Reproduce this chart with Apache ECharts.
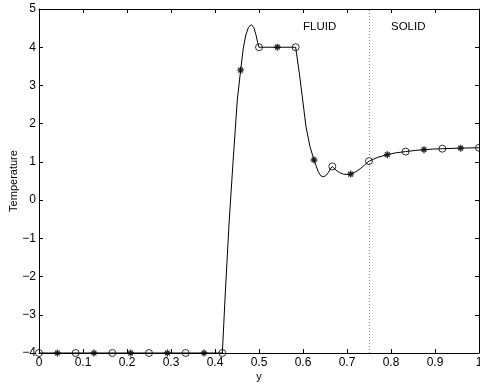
<!DOCTYPE html>
<html>
<head>
<meta charset="utf-8">
<script src="https://cdn.jsdelivr.net/npm/echarts@6/dist/echarts.min.js"></script>
<style>html,body{margin:0;padding:0;background:#fff}#c{width:480px;height:385px}</style>
</head>
<body>
<div id="c"></div>
<script>
// Continuous temperature profile
const curveX = [0, 0.4167, 0.424, 0.432, 0.441, 0.4507, 0.4583, 0.464, 0.470, 0.476, 0.4825, 0.488, 0.493, 0.497, 0.5,
  0.5833, 0.5917, 0.5993, 0.6068, 0.6159, 0.625, 0.6348, 0.640, 0.646, 0.652, 0.6576, 0.6625, 0.6667,
  0.674, 0.683, 0.692, 0.700, 0.7083, 0.720, 0.730, 0.740, 0.750, 0.770, 0.7917, 0.810, 0.8333, 0.855, 0.875, 0.895, 0.9167, 0.9583, 1.0];
const curveY = [-4, -4, -2.3, -0.6, 1.0, 2.62, 3.40, 3.95, 4.32, 4.52, 4.59, 4.52, 4.33, 4.12, 4.0,
  4.0, 3.32, 2.62, 1.92, 1.40, 1.05, 0.74, 0.64, 0.61, 0.64, 0.72, 0.82, 0.88,
  0.79, 0.72, 0.68, 0.67, 0.68, 0.74, 0.82, 0.92, 1.02, 1.12, 1.19, 1.235, 1.27, 1.30, 1.32, 1.335, 1.345, 1.36, 1.37];
// Nodes marked with circles
const circleX = [0, 0.0833, 0.1667, 0.25, 0.3333, 0.4167, 0.5, 0.5833, 0.6667, 0.75, 0.8333, 0.9167, 1.0];
const circleY = [-4, -4, -4, -4, -4, -4, 4.0, 4.0, 0.88, 1.02, 1.27, 1.345, 1.37];
// Nodes marked with asterisks
const starX = [0.0417, 0.125, 0.2083, 0.2917, 0.375, 0.4583, 0.5417, 0.625, 0.7083, 0.7917, 0.875, 0.9583];
const starY = [-4, -4, -4, -4, -4, 3.40, 4.0, 1.05, 0.68, 1.19, 1.32, 1.36];
const interfaceX = 0.75;
const regionLabels = ['FLUID', 'SOLID'];

const zip = (a, b) => a.map((v, i) => [v, b[i]]);
const font = 'Liberation Sans, Arial, Helvetica, sans-serif';
const minus = v => String(v).replace('-', '\u2212');
const tickStyle = {show: true, inside: true, length: 4, lineStyle: {color: '#000', width: 1}};
const lineStyleAx = {show: true, onZero: false, lineStyle: {color: '#000', width: 1}};

const chart = echarts.init(document.getElementById('c'), null, {renderer: 'canvas'});
chart.setOption({
  animation: false,
  backgroundColor: '#fff',
  grid: {left: 39, right: 1, top: 9, bottom: 32, containLabel: false, outerBoundsMode: 'none'},
  xAxis: [
    {type: 'value', min: 0, max: 1, interval: 0.1, position: 'bottom',
     name: 'y', nameLocation: 'middle', nameGap: 18, nameMoveOverlap: false,
     nameTextStyle: {fontFamily: font, fontSize: 11, color: '#000'},
     axisLine: lineStyleAx, axisTick: tickStyle, splitLine: {show: false},
     axisLabel: {fontFamily: font, fontSize: 12, color: '#000', margin: 4,
       formatter: v => minus(+v.toFixed(1))}},
    {type: 'value', min: 0, max: 1, interval: 0.1, position: 'top',
     axisLine: lineStyleAx, axisTick: tickStyle, axisLabel: {show: false}, splitLine: {show: false}}
  ],
  yAxis: [
    {type: 'value', min: -4, max: 5, interval: 1, position: 'left',
     name: 'Temperature', nameLocation: 'middle', nameGap: 20, nameRotate: 90, nameMoveOverlap: false,
     nameTextStyle: {fontFamily: font, fontSize: 11, color: '#000'},
     axisLine: lineStyleAx, axisTick: tickStyle, splitLine: {show: false},
     axisLabel: {fontFamily: font, fontSize: 12, color: '#000', margin: 3, formatter: v => minus(v)}},
    {type: 'value', min: -4, max: 5, interval: 1, position: 'right',
     axisLine: lineStyleAx, axisTick: tickStyle, axisLabel: {show: false}, splitLine: {show: false}}
  ],
  series: [
    {type: 'line', data: zip(curveX, curveY), showSymbol: false, symbol: 'none',
     lineStyle: {color: '#000', width: 1}, z: 3,
     markLine: {silent: true, symbol: 'none', label: {show: false},
       lineStyle: {color: '#888', type: [1, 2], width: 1},
       data: [{xAxis: interfaceX}]}},
    {type: 'scatter', data: zip(circleX, circleY), symbol: 'circle', symbolSize: 7, clip: false, z: 4,
     itemStyle: {color: 'rgba(255,255,255,0)', borderColor: '#000', borderWidth: 1}},
    {type: 'scatter', data: zip(starX, starY), clip: false, z: 4,
     symbol: 'path://M5,0L5,10M0,5L10,5M1.6,1.6L8.4,8.4M1.6,8.4L8.4,1.6', symbolSize: 7,
     itemStyle: {color: 'rgba(0,0,0,0)', borderColor: '#000', borderWidth: 1.4}}
  ],
  graphic: [
    {type: 'text', left: 303, top: 21, style: {text: regionLabels[0], font: '11.5px ' + font, fill: '#000'}},
    {type: 'text', left: 391, top: 21, style: {text: regionLabels[1], font: '11.5px ' + font, fill: '#000'}}
  ]
});
</script>
</body>
</html>
